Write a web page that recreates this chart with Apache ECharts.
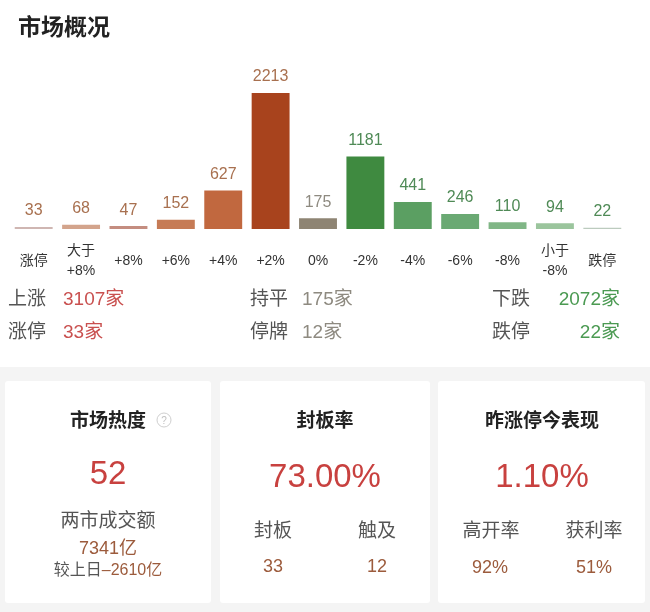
<!DOCTYPE html>
<html>
<head>
<meta charset="utf-8">
<script src="https://cdn.jsdelivr.net/npm/echarts@6/dist/echarts.min.js"></script>
<style>
  html, body { margin: 0; padding: 0; background: #fff; }
  #market { width: 650px; height: 612px; }
</style>
</head>
<body>
<div id="market"></div>
<script>
// 涨跌分布
var categories = ['涨停', '大于\n+8%', '+8%', '+6%', '+4%', '+2%', '0%', '-2%', '-4%', '-6%', '-8%', '小于\n-8%', '跌停'];
var counts = [33, 68, 47, 152, 627, 2213, 175, 1181, 441, 246, 110, 94, 22];

// 汇总
var upCount = 3107, flatCount = 175, downCount = 2072;
var limitUpCount = 33, suspendCount = 12, limitDownCount = 22;

// 卡片
var heatScore = 52, turnover = 7341, turnoverChange = '–2610';
var sealRate = '73.00%', sealCount = 33, touchCount = 12;
var prevLimitPerf = '1.10%', highOpenRate = '92%', profitRate = '51%';

var barColors = ['#cfb6b2', '#d3a48c', '#c48d80', '#c67b55', '#c1683f', '#a8431d', '#8e8473',
                 '#3f8a40', '#5b9f62', '#6aa973', '#80b686', '#9bc59d', '#bccbbe'];
var labelColors = ['#a8704f', '#a8704f', '#a8704f', '#a8704f', '#a8704f', '#a8704f', '#8e8a80',
                   '#4f8a56', '#4f8a56', '#4f8a56', '#4f8a56', '#4f8a56', '#4f8a56'];

var FONT = '"Liberation Sans", "Noto Sans CJK SC", sans-serif';
var RED = '#c8413f', BROWN = '#9c5b3c', GRAY = '#555', DARK = '#222';

function txt(x, y, text, size, color, opt) {
    opt = opt || {};
    return {
        type: 'text', z: 10,
        style: {
            x: x, y: y, text: text,
            fontSize: size, fontFamily: FONT,
            fontWeight: opt.bold ? 'bold' : 'normal',
            fill: color,
            align: opt.align || 'center',
            verticalAlign: 'middle',
            rich: opt.rich
        }
    };
}

var chart = echarts.init(document.getElementById('market'));

var graphics = [
    txt(18, 29, '市场概况', 23, DARK, {bold: true, align: 'left'}),
    // 汇总行
    txt(8, 300, '上涨', 19, GRAY, {align: 'left'}),
    txt(63, 300, upCount + '家', 19, '#c9504f', {align: 'left'}),
    txt(250, 300, '持平', 19, GRAY, {align: 'left'}),
    txt(302, 300, flatCount + '家', 19, '#8e8a80', {align: 'left'}),
    txt(492, 300, '下跌', 19, GRAY, {align: 'left'}),
    txt(620, 300, downCount + '家', 19, '#4b9a52', {align: 'right'}),
    txt(8, 333, '涨停', 19, GRAY, {align: 'left'}),
    txt(63, 333, limitUpCount + '家', 19, '#c9504f', {align: 'left'}),
    txt(250, 333, '停牌', 19, GRAY, {align: 'left'}),
    txt(302, 333, suspendCount + '家', 19, '#8e8a80', {align: 'left'}),
    txt(492, 333, '跌停', 19, GRAY, {align: 'left'}),
    txt(620, 333, limitDownCount + '家', 19, '#4b9a52', {align: 'right'}),
    // 底部灰色区域与卡片
    {type: 'rect', z: 1, shape: {x: 0, y: 367, width: 650, height: 245}, style: {fill: '#f4f4f4'}},
    {type: 'rect', z: 2, shape: {x: 5, y: 381, width: 206, height: 222, r: 3}, style: {fill: '#fff'}},
    {type: 'rect', z: 2, shape: {x: 220, y: 381, width: 210, height: 222, r: 3}, style: {fill: '#fff'}},
    {type: 'rect', z: 2, shape: {x: 438, y: 381, width: 207, height: 222, r: 3}, style: {fill: '#fff'}},
    // 市场热度
    txt(108, 422, '市场热度', 19, DARK, {bold: true}),
    {type: 'circle', z: 10, shape: {cx: 164, cy: 420, r: 7}, style: {fill: 'none', stroke: '#cfcfcf', lineWidth: 1}},
    txt(164, 421, '?', 10, '#c0c0c0'),
    txt(108, 475, String(heatScore), 33, RED),
    txt(108, 522, '两市成交额', 19, GRAY),
    txt(108, 549, turnover + '亿', 18, BROWN),
    txt(108, 571, '{a|较上日}{b|' + turnoverChange + '亿}', 16, GRAY, {rich: {
        a: {fontSize: 16, fontFamily: FONT, fill: GRAY, color: GRAY},
        b: {fontSize: 16, fontFamily: FONT, fill: BROWN, color: BROWN}
    }}),
    // 封板率
    txt(325, 422, '封板率', 19, DARK, {bold: true}),
    txt(325, 478, sealRate, 33, RED),
    txt(273, 532, '封板', 19, GRAY),
    txt(377, 532, '触及', 19, GRAY),
    txt(273, 567, String(sealCount), 18, BROWN),
    txt(377, 567, String(touchCount), 18, BROWN),
    // 昨涨停今表现
    txt(542, 422, '昨涨停今表现', 19, DARK, {bold: true}),
    txt(542, 478, prevLimitPerf, 33, RED),
    txt(491, 532, '高开率', 19, GRAY),
    txt(594, 532, '获利率', 19, GRAY),
    txt(490, 568, highOpenRate, 18, BROWN),
    txt(594, 568, profitRate, 18, BROWN)
];

chart.setOption({
    backgroundColor: '#fff',
    animation: false,
    grid: {left: 10, right: 24, top: 93, bottom: 383},
    xAxis: {
        type: 'category',
        data: categories,
        axisLine: {show: false},
        axisTick: {show: false},
        axisLabel: {
            interval: 0, margin: 32, color: '#333', fontSize: 14, fontFamily: FONT,
            lineHeight: 20, verticalAlign: 'middle'
        }
    },
    yAxis: {type: 'value', min: 0, max: 2213, show: false, splitLine: {show: false}},
    series: [{
        type: 'bar',
        barWidth: '80%',
        barMinHeight: 1,
        data: counts.map(function(v, i){
            return {
                value: v,
                itemStyle: {color: barColors[i]},
                label: {color: labelColors[i]}
            };
        }),
        label: {show: true, position: 'top', distance: 8, fontSize: 16, fontFamily: FONT}
    }],
    graphic: graphics
});
</script>
</body>
</html>
